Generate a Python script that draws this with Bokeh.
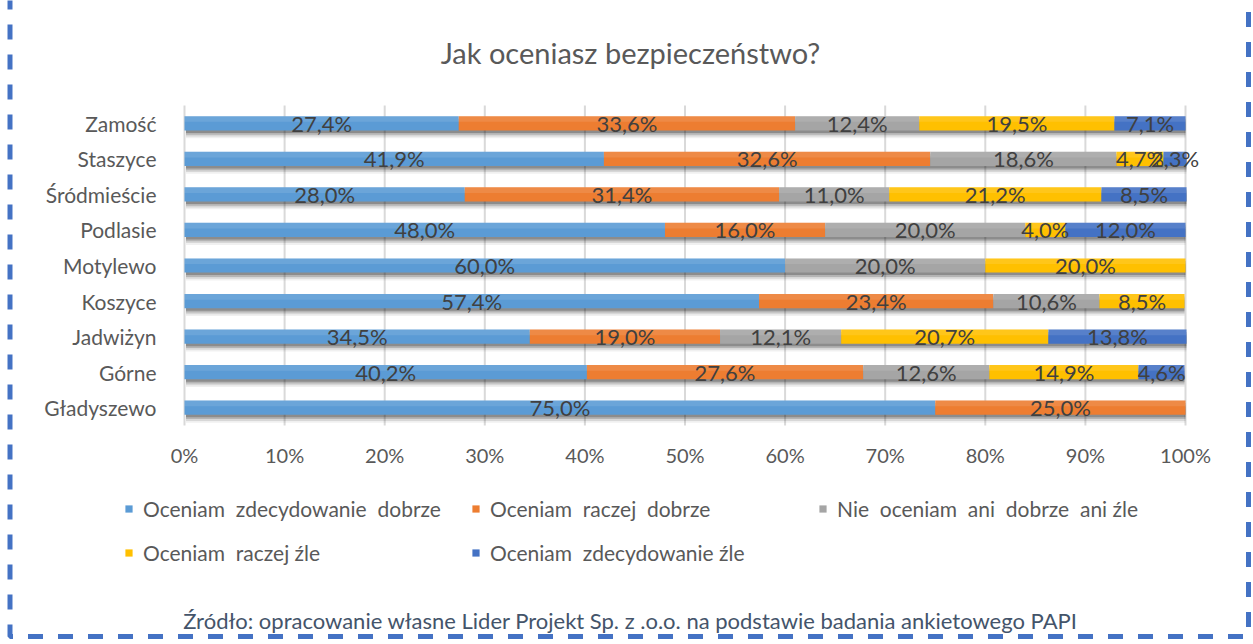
from bokeh.plotting import figure
from bokeh.models import (ColumnDataSource, Range1d, FixedTicker, PrintfTickFormatter,
                          LabelSet, Label, Legend, LegendItem, BoxAnnotation)
from bokeh.transform import dodge
from bokeh.core.properties import value
from bokeh.embed import file_html
from bokeh.resources import INLINE

# ---- data ----
categories = ["Zamość", "Staszyce", "Śródmieście", "Podlasie", "Motylewo",
              "Koszyce", "Jadwiżyn", "Górne", "Gładyszewo"]
series_names = ["Oceniam  zdecydowanie  dobrze", "Oceniam  raczej  dobrze",
                "Nie  oceniam  ani  dobrze  ani źle", "Oceniam  raczej źle",
                "Oceniam  zdecydowanie źle"]
zdecydowanie_dobrze = [27.4, 41.9, 28.0, 48.0, 60.0, 57.4, 34.5, 40.2, 75.0]
raczej_dobrze = [33.6, 32.6, 31.4, 16.0, 0.0, 23.4, 19.0, 27.6, 25.0]
ani_dobrze_ani_zle = [12.4, 18.6, 11.0, 20.0, 20.0, 10.6, 12.1, 12.6, 0.0]
raczej_zle = [19.5, 4.7, 21.2, 4.0, 20.0, 8.5, 20.7, 14.9, 0.0]
zdecydowanie_zle = [7.1, 2.3, 8.5, 12.0, 0.0, 0.0, 13.8, 4.6, 0.0]
x_ticks = [0, 10, 20, 30, 40, 50, 60, 70, 80, 90, 100]
title_text = "Jak oceniasz bezpieczeństwo?"
source_text = "Źródło: opracowanie własne Lider Projekt Sp. z .o.o. na podstawie badania ankietowego PAPI"

colors = ["#5B9BD5", "#ED7D31", "#A5A5A5", "#FFC000", "#4472C4"]
keys = ["s0", "s1", "s2", "s3", "s4"]
series = [zdecydowanie_dobrze, raczej_dobrze, ani_dobrze_ani_zle, raczej_zle, zdecydowanie_zle]

FONT = "Lato"
TXT = "#595959"
W, H = 1251, 640

n = len(categories)
ypos = [n - i for i in range(n)]          # Zamość on top
data = {"cat": categories, "y": ypos}
for k, s in zip(keys, series):
    data[k] = s
data["total"] = [sum(v) for v in zip(*series)]
src = ColumnDataSource(data)

# frame = whole canvas; 0..100 % spans pixels 184..1185, rows 105..425
px_per_x = 1001 / 100.0
px_per_y = 320 / n
x0 = -184 / px_per_x
x1 = (W - 184) / px_per_x
y_top = n + (105 + px_per_y / 2) / px_per_y
y_bot = y_top - H / px_per_y
BH = 0.40

p = figure(width=W, height=H, output_backend="svg", toolbar_location=None,
           x_range=Range1d(x0, x1), y_range=Range1d(y_bot, y_top),
           min_border=0, min_border_left=0, min_border_right=0,
           min_border_top=0, min_border_bottom=0)
p.outline_line_color = None
p.background_fill_color = "white"
p.border_fill_color = "white"
p.grid.visible = False

# vertical gridlines spanning the category band
p.segment(x0=x_ticks, x1=x_ticks, y0=[0.5] * len(x_ticks), y1=[n + 0.5] * len(x_ticks),
          line_color="#D9D9D9", line_width=2)

# soft drop shadows
for off, a in ((0.22, 0.06), (0.17, 0.10), (0.12, 0.16), (0.07, 0.22)):
    p.hbar(y=dodge("y", -off), left=0.15, right="total", height=BH,
           source=src, fill_color="black", fill_alpha=a, line_color=None)

rs = p.hbar_stack(keys, y="y", height=BH, color=colors, source=src, line_color=None)

# subtle light sheen on the upper part of the bars
p.hbar(y=dodge("y", BH * 0.3), left=0, right="total", height=BH * 0.4,
       source=src, fill_color="white", fill_alpha=0.10, line_color=None)

# value labels
lx, ly, lt = [], [], []
for i in range(n):
    start = 0.0
    for s in series:
        v = s[i]
        if v > 0:
            lx.append(start + v / 2)
            ly.append(ypos[i])
            lt.append(f"{v:.1f}%".replace(".", ","))
        start += v
lsrc = ColumnDataSource(dict(x=lx, y=ly, t=lt))
p.add_layout(LabelSet(x="x", y="y", text="t", source=lsrc, text_align="center",
                      text_baseline="middle", text_font=value(FONT), text_font_size="22px",
                      text_color="#404040"))

# axes drawn inside the frame at fixed locations
p.xaxis.fixed_location = 0.5
p.yaxis.fixed_location = 0
p.xaxis.ticker = FixedTicker(ticks=x_ticks)
p.xaxis.formatter = PrintfTickFormatter(format="%d%%")
p.yaxis.ticker = FixedTicker(ticks=ypos)
p.yaxis.major_label_overrides = {y: c for y, c in zip(ypos, categories)}
for ax in (p.xaxis, p.yaxis):
    ax.axis_line_color = None
    ax.major_tick_line_color = None
    ax.minor_tick_line_color = None
    ax.major_label_text_font = FONT
    ax.major_label_text_color = TXT
p.xaxis.major_label_text_font_size = "20px"
p.yaxis.major_label_text_font_size = "21px"
p.xaxis.major_label_standoff = 11
p.yaxis.major_label_standoff = 22

# legend (two rows)
def mk_legend(idx, y):
    items = [LegendItem(label=series_names[i], renderers=[rs[i]]) for i in idx]
    lg = Legend(items=items, location=(124, y), orientation="horizontal",
                glyph_width=9, glyph_height=9, label_standoff=10, label_width=328,
                label_height=24, spacing=0, padding=0, margin=0,
                border_line_color=None, background_fill_alpha=0,
                label_text_font=FONT, label_text_font_size="21px", label_text_color=TXT)
    p.add_layout(lg)

mk_legend([0, 1, 2], H - 521)
mk_legend([3, 4], H - 565)

# title & source
p.add_layout(Label(x=630, y=H - 52, x_units="screen", y_units="screen", text=title_text,
                   text_align="center", text_baseline="middle", text_font=FONT,
                   text_font_size="29px", text_color=TXT))
p.add_layout(Label(x=630, y=H - 620, x_units="screen", y_units="screen", text=source_text,
                   text_align="center", text_baseline="middle", text_font=FONT,
                   text_font_size="22px", text_color="#44546A"))

# dashed page border
p.add_layout(BoxAnnotation(left=9.5, right=W - 3, bottom=4, top=H + 40,
                           left_units="screen", right_units="screen",
                           bottom_units="screen", top_units="screen",
                           fill_alpha=0, line_color="#4472C4", line_alpha=1.0, line_width=5,
                           line_dash="15 15", level="overlay"))

open("out.html", "w").write(file_html(p, INLINE))
